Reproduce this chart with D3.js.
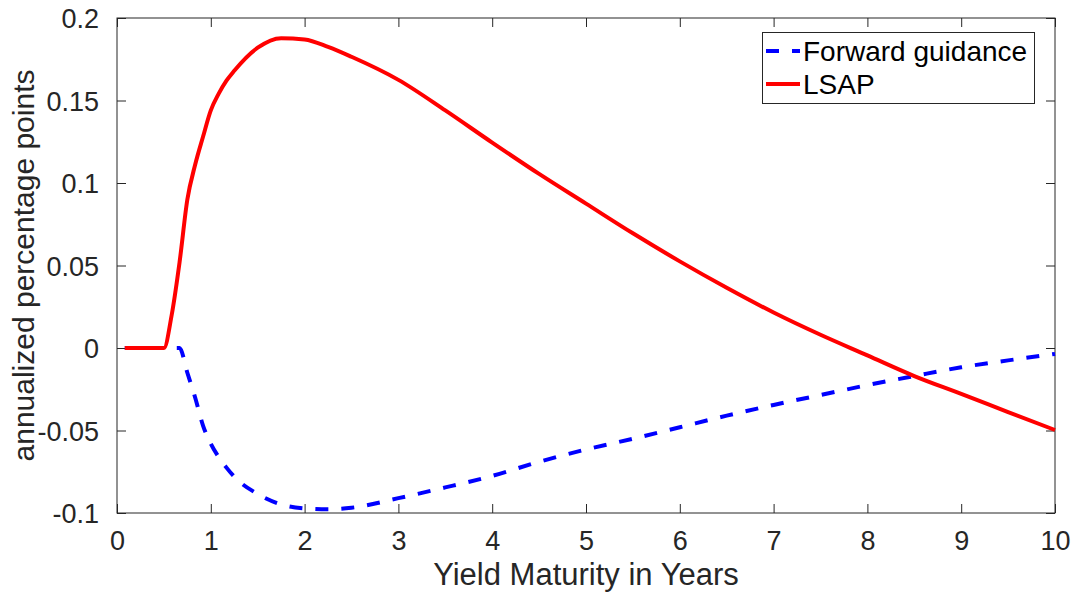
<!DOCTYPE html>
<html>
<head>
<meta charset="utf-8">
<script src="https://cdn.jsdelivr.net/npm/d3@7"></script>
<style>
    body { margin: 0; background: #fff; }
    svg { display: block; font-family: "Liberation Sans", Arial, sans-serif; }
</style>
</head>
<body>
<div class="grafic"></div>
<script>

// maturities in years
let maturity = [0.083, 0.25, 0.5, 0.583, 0.667, 0.75, 0.833, 0.917, 1.0, 1.083, 1.167, 1.25, 1.5, 1.75, 2.0, 2.25, 2.5,
    3.0, 3.5, 4.0, 4.5, 5.0, 5.5, 6.0, 6.5, 7.0, 7.5, 8.0, 8.5, 9.0, 9.5, 10.0];

// forward guidance response
let forwardGuidance = [0, 0, 0, 0, 0, -0.015, -0.030, -0.047, -0.058, -0.066, -0.0725, -0.078, -0.0885, -0.0948, -0.0972, -0.0978, -0.0968,
    -0.091, -0.0845, -0.0775, -0.069, -0.0615, -0.055, -0.048, -0.041, -0.0345, -0.0285, -0.0225, -0.017, -0.0117, -0.0075, -0.0036];

// LSAP response
let lsap = [0, 0, 0, 0.020, 0.052, 0.090, 0.111, 0.128, 0.144, 0.154, 0.162, 0.168, 0.182, 0.1878, 0.1870, 0.1825, 0.1765,
    0.1625, 0.144, 0.1245, 0.1055, 0.0875, 0.0695, 0.0525, 0.0365, 0.0215, 0.008, -0.0045, -0.017, -0.0278, -0.0388, -0.0497];

let xTicks = [0, 1, 2, 3, 4, 5, 6, 7, 8, 9, 10];
let yTicks = [-0.1, -0.05, 0, 0.05, 0.1, 0.15, 0.2];
let yTickLabels = ["-0.1", "-0.05", "0", "0.05", "0.1", "0.15", "0.2"];

let seriesNames = ["Forward guidance", "LSAP"];

let w = 1077, h = 598;
let pLeft = 117, pRight = 1055, pTop = 18, pBottom = 513;
let axisColor = "#262626";
let tickLen = 9;

let xScale = d3.scaleLinear()
    .domain([0, 10])
    .range([pLeft, pRight]);

let yScale = d3.scaleLinear()
    .domain([-0.1, 0.2])
    .range([pBottom, pTop]);

let svg = d3.select(".grafic")
    .append("svg")
    .attr("width", w)
    .attr("height", h);

// ticks inside the box, like matlab
let xAxisB = d3.axisBottom(xScale).tickValues(xTicks).tickSize(-tickLen).tickFormat(d3.format("d")).tickPadding(tickLen + 9);
let xAxisT = d3.axisTop(xScale).tickValues(xTicks).tickSize(-tickLen).tickFormat("");
let yAxisL = d3.axisLeft(yScale).tickValues(yTicks).tickSize(-tickLen)
    .tickFormat((d, i) => yTickLabels[i]).tickPadding(tickLen + 9);
let yAxisR = d3.axisRight(yScale).tickValues(yTicks).tickSize(-tickLen).tickFormat("");

svg.append("g").attr("transform", "translate(0," + pBottom + ")").call(xAxisB);
svg.append("g").attr("transform", "translate(0," + pTop + ")").call(xAxisT);
let gy = svg.append("g").attr("transform", "translate(" + pLeft + ",0)").call(yAxisL);
svg.append("g").attr("transform", "translate(" + pRight + ",0)").call(yAxisR);

svg.selectAll(".tick line")
    .attr("stroke", axisColor)
    .attr("stroke-width", 1);

svg.selectAll(".domain").remove();

// box
svg.append("rect")
    .attr("x", pLeft)
    .attr("y", pTop)
    .attr("width", pRight - pLeft)
    .attr("height", pBottom - pTop)
    .attr("fill", "none")
    .attr("stroke", axisColor)
    .attr("stroke-width", 1);

svg.selectAll(".tick text")
    .attr("fill", axisColor)
    .style("font-size", "27px")
    .style("font-family", "'Liberation Sans', Arial, sans-serif");

gy.selectAll(".tick text").attr("dy", "0.36em");

// curves
let line = (vals) => d3.line()
    .x((d, i) => xScale(maturity[i]))
    .y((d) => yScale(d))
    .curve(d3.curveMonotoneX)(vals);

svg.append("path")
    .attr("d", line(forwardGuidance))
    .attr("fill", "none")
    .attr("stroke", "#0000ff")
    .attr("stroke-width", 4)
    .attr("stroke-dasharray", "13,13");

svg.append("path")
    .attr("d", line(lsap))
    .attr("fill", "none")
    .attr("stroke", "#ff0000")
    .attr("stroke-width", 4);

// axis labels
svg.append("text")
    .attr("x", (pLeft + pRight) / 2)
    .attr("y", 585)
    .attr("text-anchor", "middle")
    .attr("fill", axisColor)
    .style("font-size", "31px")
    .text("Yield Maturity in Years");

svg.append("text")
    .attr("transform", "translate(34," + ((pTop + pBottom) / 2) + ") rotate(-90)")
    .attr("text-anchor", "middle")
    .attr("fill", axisColor)
    .style("font-size", "30px")
    .text("annualized percentage points");

// legend
let leg = svg.append("g").attr("transform", "translate(762,32)");

leg.append("rect")
    .attr("x", 0.5)
    .attr("y", 0.5)
    .attr("width", 272)
    .attr("height", 71)
    .attr("fill", "#fff")
    .attr("stroke", axisColor)
    .attr("stroke-width", 1);

let legStyles = [
    { color: "#0000ff", dash: "13,13" },
    { color: "#ff0000", dash: null }
];

seriesNames.forEach((name, i) => {
    let yy = 19 + i * 33;
    leg.append("line")
        .attr("x1", 4)
        .attr("x2", 38)
        .attr("y1", yy)
        .attr("y2", yy)
        .attr("stroke", legStyles[i].color)
        .attr("stroke-width", 4)
        .attr("stroke-dasharray", legStyles[i].dash);
    leg.append("text")
        .attr("x", 41)
        .attr("y", yy)
        .attr("dy", "0.36em")
        .attr("fill", "#000")
        .style("font-size", "28px")
        .text(name);
});

</script>
</body>
</html>
